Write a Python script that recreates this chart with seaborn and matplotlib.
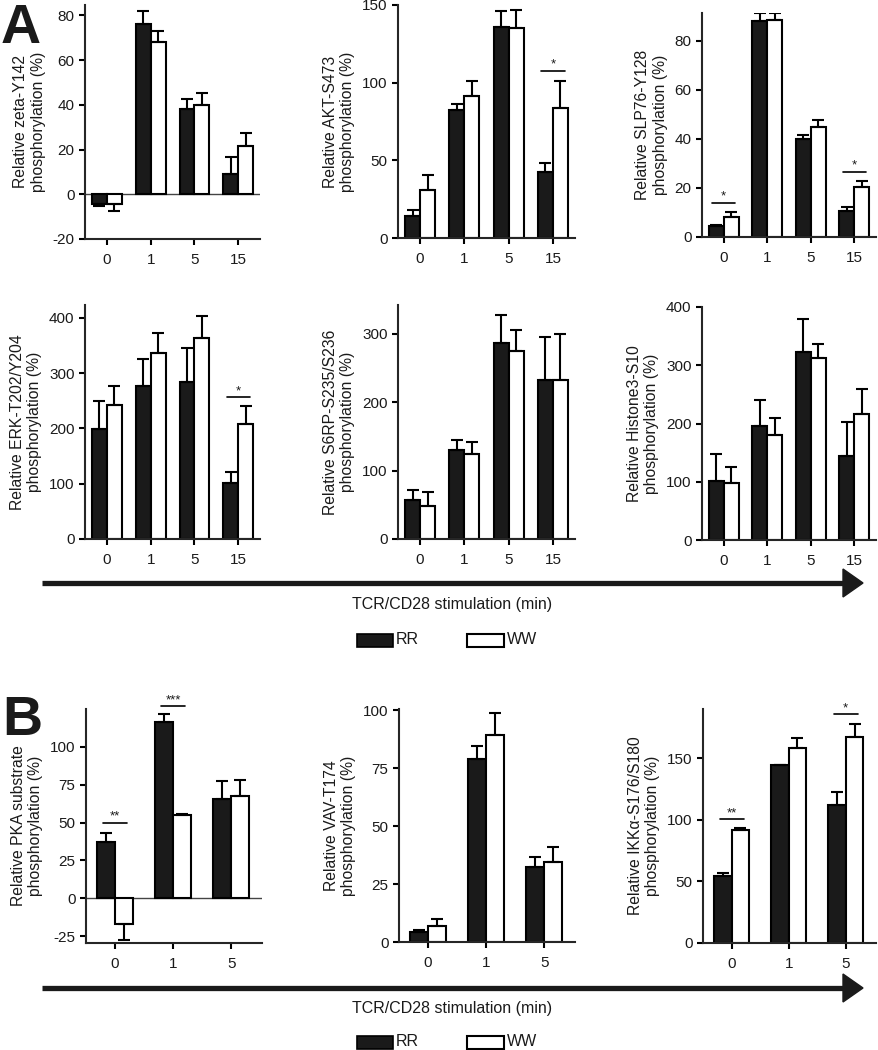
import pandas as pd
import numpy as np
import matplotlib
matplotlib.use("Agg")
import matplotlib.pyplot as plt
import seaborn as sns
from matplotlib.patches import Rectangle, Polygon
from matplotlib.lines import Line2D

# time points (min)
times_a = ["0", "1", "5", "15"]
times_b = ["0", "1", "5"]

# panel A, top row
zeta_rr = [-4.5, 76.1, 37.9, 8.9]
zeta_rr_err = [0.9, 5.7, 4.5, 7.9]
zeta_ww = [-4.5, 68.0, 39.8, 21.4]
zeta_ww_err = [3.2, 4.8, 5.5, 5.8]

akt_rr = [14.1, 82.5, 136.0, 42.6]
akt_rr_err = [3.7, 3.6, 10.3, 5.6]
akt_ww = [31.1, 91.7, 135.2, 83.6]
akt_ww_err = [9.2, 9.4, 11.8, 17.7]

slp_rr = [4.3, 88.1, 40.0, 10.6]
slp_rr_err = [0.4, 3.4, 1.4, 1.6]
slp_ww = [8.1, 88.4, 44.9, 20.3]
slp_ww_err = [1.9, 3.1, 2.6, 2.6]

# panel A, second row
erk_rr = [199, 276, 283, 101]
erk_rr_err = [51, 49, 62, 21]
erk_ww = [243, 336, 363, 208]
erk_ww_err = [34, 36, 41, 32]

s6_rr = [56.5, 130.5, 286, 232]
s6_rr_err = [15.5, 14.5, 41.5, 63]
s6_ww = [48.7, 123.7, 275, 232]
s6_ww_err = [20.3, 18.5, 30.2, 67.5]

h3_rr = [102, 195, 323, 145]
h3_rr_err = [46, 46, 56, 58]
h3_ww = [98.6, 179.4, 312.3, 216.6]
h3_ww_err = [27.4, 30.3, 24.7, 43]

# panel B
pka_rr = [37.1, 116.6, 65.3]
pka_rr_err = [5.9, 5.0, 12.0]
pka_ww = [-17.2, 54.7, 67.3]
pka_ww_err = [10.6, 1.1, 11.1]

vav_rr = [4.5, 78.9, 32.2]
vav_rr_err = [0.5, 5.6, 4.3]
vav_ww = [6.9, 89.2, 34.6]
vav_ww_err = [2.9, 9.5, 6.2]

ikk_rr = [54.0, 144.3, 112.2]
ikk_rr_err = [2.5, 0.6, 10.2]
ikk_ww = [91.6, 158.6, 167.6]
ikk_ww_err = [1.6, 8.2, 10.0]

sns.set_theme(style="ticks")
plt.rcParams["font.family"] = ["Liberation Sans", "DejaVu Sans"]
plt.rcParams["axes.linewidth"] = 1.5
plt.rcParams["axes.unicode_minus"] = False
plt.rcParams["text.color"] = "#1a1a1a"

W, H = 879, 1050
fig = plt.figure(figsize=(W / 100, H / 100), dpi=100)


def fx(x):
    return x / W


def fy(y):
    return 1 - y / H


def add_axes(l, t, r, b):
    return fig.add_axes([fx(l), fy(b), (r - l) / W, (b - t) / H])


def panel(box, cats, rr, rr_err, ww, ww_err, ylabel, ylim, yticks, width, sig=(), sig_half=0.265, zero=False):
    ax = add_axes(*box)
    n = len(cats)
    df = pd.DataFrame({"time": cats * 2, "value": rr + ww,
                       "genotype": ["RR"] * n + ["WW"] * n})
    sns.barplot(data=df, x="time", y="value", hue="genotype", order=cats,
                hue_order=["RR", "WW"], palette={"RR": "#1a1a1a", "WW": "white"},
                edgecolor="black", linewidth=1.5, width=width, errorbar=None,
                legend=False, ax=ax)
    for cont, vals, errs in zip(ax.containers, [rr, ww], [rr_err, ww_err]):
        for bar, v, e in zip(cont, vals, errs):
            x = bar.get_x() + bar.get_width() / 2
            yerr = [[e], [0]] if v < 0 else [[0], [e]]
            ax.errorbar(x, v, yerr=yerr, fmt="none", ecolor="black",
                        elinewidth=1.5, capsize=4, capthick=1.5, zorder=1)
    if zero:
        ax.axhline(0, color="#444444", lw=1.0, zorder=0)
    for i, y, lab in sig:
        ax.plot([i - sig_half, i + sig_half], [y, y], color="black", lw=1.2, clip_on=False)
        ax.annotate(lab, (i, y), xytext=(0, 0), textcoords="offset points",
                    ha="center", va="bottom", fontsize=9.5, annotation_clip=False)
    ax.set_xlim(-0.5, n - 0.5 + (0.03 if n == 3 else 0))
    ax.set_ylim(*ylim)
    ax.set_yticks(yticks)
    ax.set_xlabel("")
    ax.set_ylabel(ylabel, fontsize=11.3, labelpad=5, color="#1a1a1a")
    ax.tick_params(labelsize=11, width=1.5, length=4, color="black", labelcolor="#1a1a1a")
    ax.tick_params(axis="x", pad=6)
    sns.despine(ax=ax)
    return ax


panel((85, 5, 260, 239), times_a, zeta_rr, zeta_rr_err, zeta_ww, zeta_ww_err,
      "Relative zeta-Y142\nphosphorylation (%)", (-20, 84.6), [-20, 0, 20, 40, 60, 80], 0.68, zero=True)
panel((398, 5, 575, 238), times_a, akt_rr, akt_rr_err, akt_ww, akt_ww_err,
      "Relative AKT-S473\nphosphorylation (%)", (0, 150), [0, 50, 100, 150], 0.68,
      sig=[(3, 107.8, "*")])
panel((702, 13, 876, 237), times_a, slp_rr, slp_rr_err, slp_ww, slp_ww_err,
      "Relative SLP76-Y128\nphosphorylation (%)", (0, 91.3), [0, 20, 40, 60, 80], 0.68,
      sig=[(0, 14, "*"), (3, 26.6, "*")])
panel((85, 305, 260, 539), times_a, erk_rr, erk_rr_err, erk_ww, erk_ww_err,
      "Relative ERK-T202/Y204\nphosphorylation (%)", (0, 423), [0, 100, 200, 300, 400], 0.68,
      sig=[(3, 256, "*")])
panel((398, 305, 575, 539), times_a, s6_rr, s6_rr_err, s6_ww, s6_ww_err,
      "Relative S6RP-S235/S236\nphosphorylation (%)", (0, 342), [0, 100, 200, 300], 0.68)
panel((702, 307, 876, 540), times_a, h3_rr, h3_rr_err, h3_ww, h3_ww_err,
      "Relative Histone3-S10\nphosphorylation (%)", (0, 400), [0, 100, 200, 300, 400], 0.68)
panel((86, 709, 262, 943), times_b, pka_rr, pka_rr_err, pka_ww, pka_ww_err,
      "Relative PKA substrate\nphosphorylation (%)", (-29.5, 125), [-25, 0, 25, 50, 75, 100], 0.62,
      sig=[(0, 49.9, "**"), (1, 127, "***")], sig_half=0.21, zero=True)
panel((399, 709, 575, 942), times_b, vav_rr, vav_rr_err, vav_ww, vav_ww_err,
      "Relative VAV-T174\nphosphorylation (%)", (0, 100.5), [0, 25, 50, 75, 100], 0.62)
panel((703, 709, 876, 943), times_b, ikk_rr, ikk_rr_err, ikk_ww, ikk_ww_err,
      "Relative IKKα-S176/S180\nphosphorylation (%)", (0, 190), [0, 50, 100, 150], 0.62,
      sig=[(0, 100.3, "**"), (2, 185.7, "*")], sig_half=0.21)

# panel letters
fig.text(fx(1), fy(43), "A", fontsize=40, fontweight="bold", va="baseline", ha="left")
fig.text(fx(2), fy(735), "B", fontsize=40, fontweight="bold", va="baseline", ha="left")


def stim_arrow(y, text_y, leg_y):
    fig.add_artist(Line2D([fx(42), fx(846)], [fy(y), fy(y)], color="#1a1a1a", lw=3.8,
                          solid_capstyle="butt"))
    fig.add_artist(Polygon([(fx(843), fy(y - 14)), (fx(843), fy(y + 14)), (fx(863), fy(y))],
                           closed=True, color="#1a1a1a", transform=fig.transFigure))
    fig.text(fx(452), fy(text_y), "TCR/CD28 stimulation (min)", fontsize=11.5,
             ha="center", va="center")
    # legend
    fig.add_artist(Rectangle((fx(357), fy(leg_y + 6.5)), 36 / W, 13 / H, facecolor="#1a1a1a",
                             edgecolor="black", lw=1.2, transform=fig.transFigure))
    fig.text(fx(396), fy(leg_y), "RR", fontsize=11.5, ha="left", va="center")
    fig.add_artist(Rectangle((fx(467), fy(leg_y + 6.5)), 37 / W, 13 / H, facecolor="white",
                             edgecolor="black", lw=1.5, transform=fig.transFigure))
    fig.text(fx(507), fy(leg_y), "WW", fontsize=11.5, ha="left", va="center")


stim_arrow(583, 604, 640)
stim_arrow(988, 1008, 1042)

fig.savefig("out.png", dpi=100)
